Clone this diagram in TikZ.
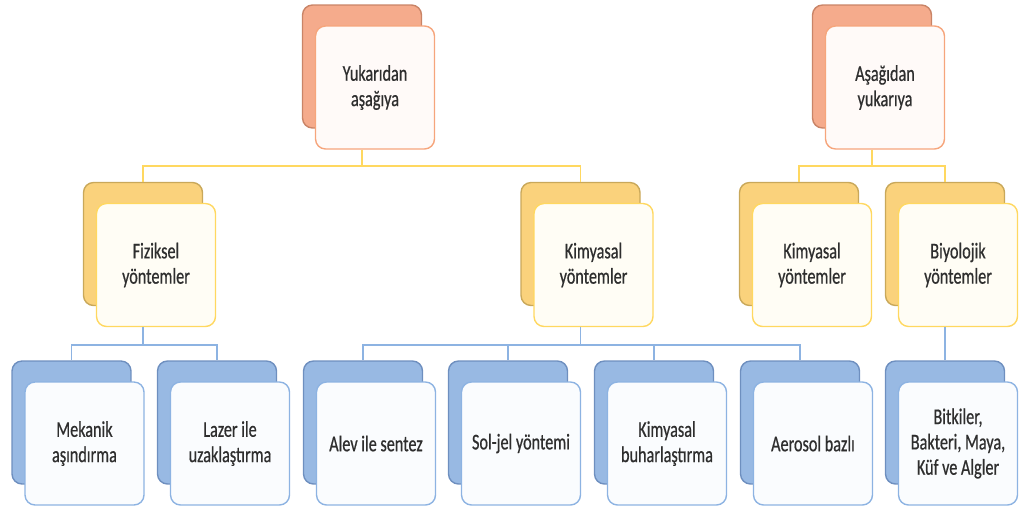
\documentclass[tikz,border=0pt]{standalone}
\usepackage{fontspec}
\setmainfont{Carlito}[FakeStretch=0.72, FakeBold=0.6]

\definecolor{orBack}{HTML}{F5AB8C}
\definecolor{orEdge}{HTML}{C98467}
\definecolor{orFront}{HTML}{F6A57C}
\definecolor{yeBack}{HTML}{FAD27C}
\definecolor{yeEdge}{HTML}{C9A85A}
\definecolor{yeFront}{HTML}{FFD860}
\definecolor{blBack}{HTML}{98B9E3}
\definecolor{blEdge}{HTML}{6E8FBF}
\definecolor{blFront}{HTML}{8DB3E2}
\definecolor{txtGray}{HTML}{2E2E2E}

\begin{document}
\begin{tikzpicture}[x=0.02cm,y=-0.02cm,
	back/.style={rounded corners=0.2cm, minimum width=2.38cm, minimum height=2.46cm, line width=0.8pt},
	front/.style={back, align=center, text=txtGray, inner sep=2pt,
		font=\fontsize{12.8}{14.4}\selectfont},
	Aback/.style={back, fill=orBack, draw=orEdge},
	Afront/.style={front, fill=orFront!5, draw=orFront},
	Bback/.style={back, fill=yeBack, draw=yeEdge},
	Bfront/.style={front, fill=yeFront!6, draw=yeFront},
	Cback/.style={back, fill=blBack, draw=blEdge},
	Cfront/.style={front, fill=blFront!4, draw=blFront},
	ylink/.style={draw=yeFront, line width=0.9pt},
	blink/.style={draw=blFront, line width=0.9pt}]

	\useasboundingbox (0,0) rectangle (1023,510);

	\newcommand*{\ikiz}[5]{%
		\node[#2back] (#1B) at (#3,#4) {};
		\node[#2front] (#1) at (#3+13,#4+21) {#5};
	}%

	\coordinate (barA) at (0,166);
	\coordinate (barB) at (0,345);

	% top row
	\ikiz{yuk}{A}{362}{66.5}{Yukarıdan\\aşağıya}
	\ikiz{asa}{A}{872}{66.5}{Aşağıdan\\yukarıya}

	% middle row
	\ikiz{fiz}{B}{143}{244}{Fiziksel\\yöntemler}
	\ikiz{kimA}{B}{580.5}{244}{Kimyasal\\yöntemler}
	\ikiz{kimB}{B}{799}{244}{Kimyasal\\yöntemler}
	\ikiz{biy}{B}{945}{244}{Biyolojik\\yöntemler}

	% bottom row
	\ikiz{mek}{C}{71.5}{422.5}{Mekanik\\aşındırma}
	\ikiz{laz}{C}{217}{422.5}{Lazer ile\\uzaklaştırma}
	\ikiz{alev}{C}{363}{422.5}{Alev ile sentez}
	\ikiz{sol}{C}{508}{422.5}{Sol-jel yöntemi}
	\ikiz{buh}{C}{654}{422.5}{Kimyasal\\buharlaştırma}
	\ikiz{aer}{C}{800}{422.5}{Aerosol bazlı}
	\ikiz{bit}{C}{945}{422.5}{Bitkiler,\\Bakteri, Maya,\\Küf ve Algler}

	% connectors
	\foreach \p/\c in {yuk/fiz, yuk/kimA, asa/kimB, asa/biy}{
		\path[ylink] (\p B |- \p.south) -- (\p B |- barA) -| (\c B.north);
	}
	\foreach \p/\c in {fiz/mek, fiz/laz, kimA/alev, kimA/sol, kimA/buh, kimA/aer, biy/bit}{
		\path[blink] (\p B |- \p.south) -- (\p B |- barB) -| (\c B.north);
	}

\end{tikzpicture}
\end{document}
